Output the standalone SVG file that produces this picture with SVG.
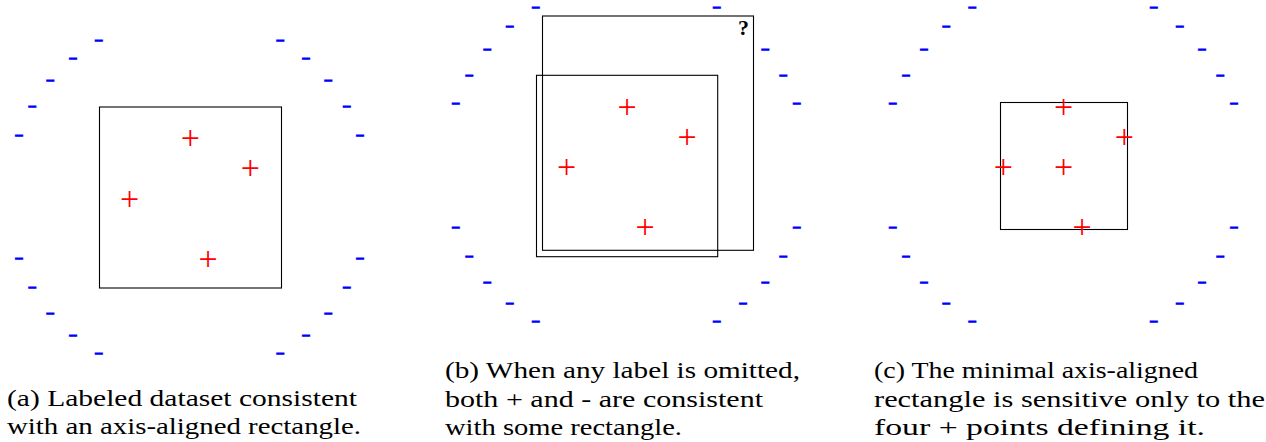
<svg xmlns="http://www.w3.org/2000/svg" width="1266" height="442" viewBox="0 0 1266 442">
<style>
.m{font-family:"Liberation Serif",serif;font-size:12px;font-weight:bold;fill:#0000ff;stroke:#0000ff;stroke-width:1;text-anchor:middle}
.p{font-family:"Liberation Serif",serif;font-size:34px;fill:#ff0000;text-anchor:middle}
.r{fill:none;stroke:#000;stroke-width:1.1}
.cap{font-family:"Liberation Serif",serif;font-size:23px;fill:#000}
.q{font-family:"Liberation Serif",serif;font-size:22px;font-weight:bold;fill:#000;text-anchor:middle}
</style>
<rect width="1266" height="442" fill="#fff"/>
<g id="panel-a">
<rect class="r" x="99.5" y="107" width="182" height="181"/>
<g id="a-minus">
<text class="m" textLength="8" lengthAdjust="spacingAndGlyphs" x="98.7" y="43.5">-</text>
<text class="m" textLength="8" lengthAdjust="spacingAndGlyphs" x="73" y="61.5">-</text>
<text class="m" textLength="8" lengthAdjust="spacingAndGlyphs" x="50.3" y="83.5">-</text>
<text class="m" textLength="8" lengthAdjust="spacingAndGlyphs" x="32.3" y="109.5">-</text>
<text class="m" textLength="8" lengthAdjust="spacingAndGlyphs" x="19" y="138.5">-</text>
<text class="m" textLength="8" lengthAdjust="spacingAndGlyphs" x="19" y="262.1">-</text>
<text class="m" textLength="8" lengthAdjust="spacingAndGlyphs" x="32.3" y="291.1">-</text>
<text class="m" textLength="8" lengthAdjust="spacingAndGlyphs" x="50.3" y="317.1">-</text>
<text class="m" textLength="8" lengthAdjust="spacingAndGlyphs" x="73" y="339.1">-</text>
<text class="m" textLength="8" lengthAdjust="spacingAndGlyphs" x="98.7" y="357.1">-</text>
<text class="m" textLength="8" lengthAdjust="spacingAndGlyphs" x="280.3" y="43.5">-</text>
<text class="m" textLength="8" lengthAdjust="spacingAndGlyphs" x="306" y="61.5">-</text>
<text class="m" textLength="8" lengthAdjust="spacingAndGlyphs" x="328.3" y="83.5">-</text>
<text class="m" textLength="8" lengthAdjust="spacingAndGlyphs" x="346.7" y="109.5">-</text>
<text class="m" textLength="8" lengthAdjust="spacingAndGlyphs" x="360" y="138.5">-</text>
<text class="m" textLength="8" lengthAdjust="spacingAndGlyphs" x="360" y="262.1">-</text>
<text class="m" textLength="8" lengthAdjust="spacingAndGlyphs" x="346.7" y="291.1">-</text>
<text class="m" textLength="8" lengthAdjust="spacingAndGlyphs" x="328.3" y="317.1">-</text>
<text class="m" textLength="8" lengthAdjust="spacingAndGlyphs" x="306" y="339.1">-</text>
<text class="m" textLength="8" lengthAdjust="spacingAndGlyphs" x="280.3" y="357.1">-</text>
</g>
<g id="a-plus">
<text class="p" x="190.3" y="148.5">+</text>
<text class="p" x="250.3" y="178.5">+</text>
<text class="p" x="129.7" y="209.5">+</text>
<text class="p" x="208" y="269.5">+</text>
</g>
<text class="cap" x="7" y="405.7" textLength="350" lengthAdjust="spacingAndGlyphs">(a) Labeled dataset consistent</text>
<text class="cap" x="7" y="434" textLength="354" lengthAdjust="spacingAndGlyphs">with an axis-aligned rectangle.</text>
</g>
<g id="panel-b">
<rect class="r" x="542.5" y="16" width="211" height="234.3"/>
<rect class="r" x="536.5" y="75.3" width="181.2" height="181.4"/>
<text class="q" x="743.5" y="35">?</text>
<g id="b-minus">
<text class="m" textLength="8" lengthAdjust="spacingAndGlyphs" x="535.7" y="11.1">-</text>
<text class="m" textLength="8" lengthAdjust="spacingAndGlyphs" x="509.7" y="29.5">-</text>
<text class="m" textLength="8" lengthAdjust="spacingAndGlyphs" x="487.3" y="52.5">-</text>
<text class="m" textLength="8" lengthAdjust="spacingAndGlyphs" x="469.3" y="78.5">-</text>
<text class="m" textLength="8" lengthAdjust="spacingAndGlyphs" x="455.7" y="106.5">-</text>
<text class="m" textLength="8" lengthAdjust="spacingAndGlyphs" x="455.7" y="230.5">-</text>
<text class="m" textLength="8" lengthAdjust="spacingAndGlyphs" x="469.3" y="259.5">-</text>
<text class="m" textLength="8" lengthAdjust="spacingAndGlyphs" x="487.3" y="285.5">-</text>
<text class="m" textLength="8" lengthAdjust="spacingAndGlyphs" x="509.7" y="307.1">-</text>
<text class="m" textLength="8" lengthAdjust="spacingAndGlyphs" x="535.7" y="325.1">-</text>
<text class="m" textLength="8" lengthAdjust="spacingAndGlyphs" x="716.7" y="11.1">-</text>
<text class="m" textLength="8" lengthAdjust="spacingAndGlyphs" x="765.3" y="52.5">-</text>
<text class="m" textLength="8" lengthAdjust="spacingAndGlyphs" x="783.3" y="78.5">-</text>
<text class="m" textLength="8" lengthAdjust="spacingAndGlyphs" x="796.7" y="106.5">-</text>
<text class="m" textLength="8" lengthAdjust="spacingAndGlyphs" x="796.7" y="230.5">-</text>
<text class="m" textLength="8" lengthAdjust="spacingAndGlyphs" x="783.3" y="259.5">-</text>
<text class="m" textLength="8" lengthAdjust="spacingAndGlyphs" x="765.3" y="285.5">-</text>
<text class="m" textLength="8" lengthAdjust="spacingAndGlyphs" x="743" y="307.1">-</text>
<text class="m" textLength="8" lengthAdjust="spacingAndGlyphs" x="716.7" y="325.1">-</text>
</g>
<g id="b-plus">
<text class="p" x="627" y="117.5">+</text>
<text class="p" x="687" y="147.5">+</text>
<text class="p" x="566.7" y="177.5">+</text>
<text class="p" x="645" y="237.5">+</text>
</g>
<text class="cap" x="445" y="378.3" textLength="355" lengthAdjust="spacingAndGlyphs">(b) When any label is omitted,</text>
<text class="cap" x="445" y="406.6" textLength="318" lengthAdjust="spacingAndGlyphs">both + and - are consistent</text>
<text class="cap" x="445" y="435" textLength="237" lengthAdjust="spacingAndGlyphs">with some rectangle.</text>
</g>
<g id="panel-c">
<rect class="r" x="1000.5" y="102.5" width="127" height="127"/>
<g id="c-minus">
<text class="m" textLength="8" lengthAdjust="spacingAndGlyphs" x="972.3" y="11.1">-</text>
<text class="m" textLength="8" lengthAdjust="spacingAndGlyphs" x="946.3" y="29.5">-</text>
<text class="m" textLength="8" lengthAdjust="spacingAndGlyphs" x="924" y="52.5">-</text>
<text class="m" textLength="8" lengthAdjust="spacingAndGlyphs" x="906" y="78.5">-</text>
<text class="m" textLength="8" lengthAdjust="spacingAndGlyphs" x="892.7" y="106.5">-</text>
<text class="m" textLength="8" lengthAdjust="spacingAndGlyphs" x="892.7" y="230.5">-</text>
<text class="m" textLength="8" lengthAdjust="spacingAndGlyphs" x="906" y="259.5">-</text>
<text class="m" textLength="8" lengthAdjust="spacingAndGlyphs" x="924" y="285.5">-</text>
<text class="m" textLength="8" lengthAdjust="spacingAndGlyphs" x="946.3" y="307.1">-</text>
<text class="m" textLength="8" lengthAdjust="spacingAndGlyphs" x="972.3" y="325.1">-</text>
<text class="m" textLength="8" lengthAdjust="spacingAndGlyphs" x="1153.7" y="11.1">-</text>
<text class="m" textLength="8" lengthAdjust="spacingAndGlyphs" x="1179.7" y="29.5">-</text>
<text class="m" textLength="8" lengthAdjust="spacingAndGlyphs" x="1202" y="52.5">-</text>
<text class="m" textLength="8" lengthAdjust="spacingAndGlyphs" x="1220.3" y="78.5">-</text>
<text class="m" textLength="8" lengthAdjust="spacingAndGlyphs" x="1234" y="106.5">-</text>
<text class="m" textLength="8" lengthAdjust="spacingAndGlyphs" x="1234" y="230.5">-</text>
<text class="m" textLength="8" lengthAdjust="spacingAndGlyphs" x="1220.3" y="259.5">-</text>
<text class="m" textLength="8" lengthAdjust="spacingAndGlyphs" x="1202" y="285.5">-</text>
<text class="m" textLength="8" lengthAdjust="spacingAndGlyphs" x="1179.7" y="307.1">-</text>
<text class="m" textLength="8" lengthAdjust="spacingAndGlyphs" x="1153.7" y="325.1">-</text>
</g>
<g id="c-plus">
<text class="p" x="1063.7" y="117.5">+</text>
<text class="p" x="1124.3" y="147.5">+</text>
<text class="p" x="1003.3" y="177.5">+</text>
<text class="p" x="1063.7" y="177.5">+</text>
<text class="p" x="1082" y="237.5">+</text>
</g>
<text class="cap" x="874" y="378.3" textLength="324" lengthAdjust="spacingAndGlyphs">(c) The minimal axis-aligned</text>
<text class="cap" x="874" y="406.6" textLength="391" lengthAdjust="spacingAndGlyphs">rectangle is sensitive only to the</text>
<text class="cap" x="874" y="435" textLength="331" lengthAdjust="spacingAndGlyphs">four + points defining it.</text>
</g>
</svg>
